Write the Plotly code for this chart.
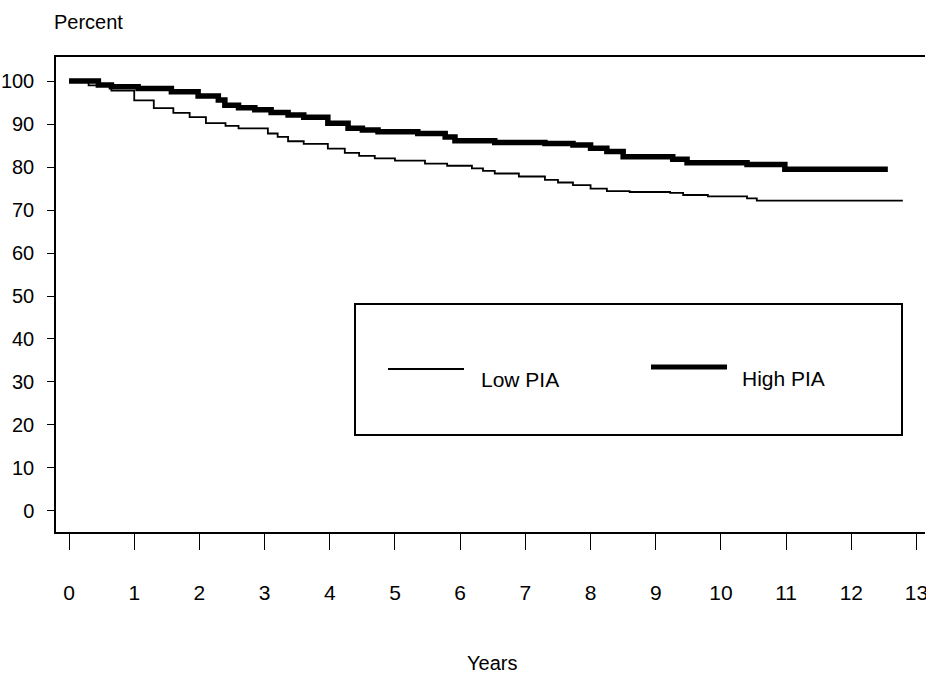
import plotly.graph_objects as go

# Kaplan-Meier style survival curves (percent)
low_years = [0, 0.3, 0.65, 1.0, 1.3, 1.6, 1.85, 2.1, 2.4, 2.6, 3.05, 3.2, 3.36, 3.6,
             3.97, 4.23, 4.45, 4.69, 5.0, 5.46, 5.8, 6.18, 6.35, 6.53, 6.9, 7.3, 7.5,
             7.73, 8.0, 8.25, 8.6, 9.22, 9.42, 9.8, 10.4, 10.55, 12.79]
low_pct = [100, 99.0, 97.8, 95.5, 93.7, 92.6, 91.6, 90.2, 89.6, 89.0, 87.8, 87.0, 86.0, 85.4,
           84.3, 83.3, 82.6, 82.0, 81.5, 80.8, 80.3, 79.7, 79.1, 78.5, 77.8, 77.0, 76.4,
           75.8, 75.0, 74.4, 74.2, 74.0, 73.5, 73.2, 72.7, 72.2, 72.2]

high_years = [0, 0.45, 0.65, 1.06, 1.57, 1.98, 2.29, 2.39, 2.6, 2.85, 3.1, 3.36, 3.6, 3.97,
              4.28, 4.5, 4.74, 5.35, 5.77, 5.92, 6.53, 7.3, 7.73, 8.0, 8.25, 8.5, 9.26,
              9.48, 10.4, 10.98, 12.56]
high_pct = [100, 99.1, 98.7, 98.3, 97.5, 96.5, 95.6, 94.4, 93.8, 93.3, 92.7, 92.1, 91.6, 90.2,
            89.0, 88.6, 88.2, 87.8, 87.0, 86.1, 85.7, 85.5, 85.1, 84.4, 83.6, 82.4, 81.8,
            81.0, 80.6, 79.5, 79.5]

x_ticks = list(range(0, 14))
y_ticks = list(range(0, 101, 10))

W, H = 926, 674
L, R, T, B = 56, 1, 57, 142
PW, PH = W - L - R, H - T - B

def px(x):
    return (x - L) / PW

def py(y):
    return (H - B - y) / PH

FONT = "Liberation Sans, Arial, Helvetica, sans-serif"

fig = go.Figure()
fig.add_trace(go.Scatter(x=low_years, y=low_pct, mode="lines", name="Low PIA",
                         line=dict(color="black", width=1.8, shape="hv")))
fig.add_trace(go.Scatter(x=high_years, y=high_pct, mode="lines", name="High PIA",
                         line=dict(color="black", width=5.5, shape="hv")))

fig.update_layout(
    width=W, height=H,
    margin=dict(l=L, r=R, t=T, b=B),
    paper_bgcolor="white", plot_bgcolor="white",
    showlegend=False,
    font=dict(family=FONT, color="black", size=21),
)
fig.update_xaxes(range=[-0.2, 13.13], tickvals=x_ticks, ticks="outside", ticklen=16,
                 tickwidth=1.4, tickcolor="black", showline=True, linecolor="black",
                 linewidth=1.5, mirror=True, showgrid=False, zeroline=False,
                 automargin=False, ticklabeloverflow="allow",
                 ticklabelstandoff=25, tickfont=dict(size=21))
fig.update_yaxes(range=[-4.9, 105.6], tickvals=y_ticks, ticks="outside", ticklen=7,
                 tickwidth=1.2, tickcolor="black", showline=True, linecolor="black",
                 linewidth=1.5, showgrid=False, zeroline=False, automargin=False,
                 ticklabelstandoff=9, tickfont=dict(size=20))

# legend box drawn as decoration
fig.add_shape(type="rect", xref="paper", yref="paper",
              x0=px(355), x1=px(902), y0=py(435), y1=py(304),
              line=dict(color="black", width=2), fillcolor="rgba(0,0,0,0)")
fig.add_shape(type="line", xref="paper", yref="paper",
              x0=px(388), x1=px(464), y0=py(369), y1=py(369),
              line=dict(color="black", width=1.8))
fig.add_shape(type="line", xref="paper", yref="paper",
              x0=px(651), x1=px(727), y0=py(367), y1=py(367),
              line=dict(color="black", width=5))
fig.add_annotation(text="Low PIA", xref="paper", yref="paper", x=px(479), y=py(379),
                   xanchor="left", yanchor="middle", showarrow=False, font=dict(size=21))
fig.add_annotation(text="High PIA", xref="paper", yref="paper", x=px(740), y=py(378),
                   xanchor="left", yanchor="middle", showarrow=False, font=dict(size=21))

fig.add_annotation(text="Percent", xref="paper", yref="paper", x=px(52), y=py(22),
                   xanchor="left", yanchor="middle", showarrow=False, font=dict(size=20))
fig.add_annotation(text="Years", xref="paper", yref="paper", x=px(492), y=py(663),
                   xanchor="center", yanchor="middle", showarrow=False, font=dict(size=20))

fig.write_html(
    "out.html",
    config={"displayModeBar": False},
    post_script="document.body.style.margin='0';document.body.style.overflow='hidden';",
)
